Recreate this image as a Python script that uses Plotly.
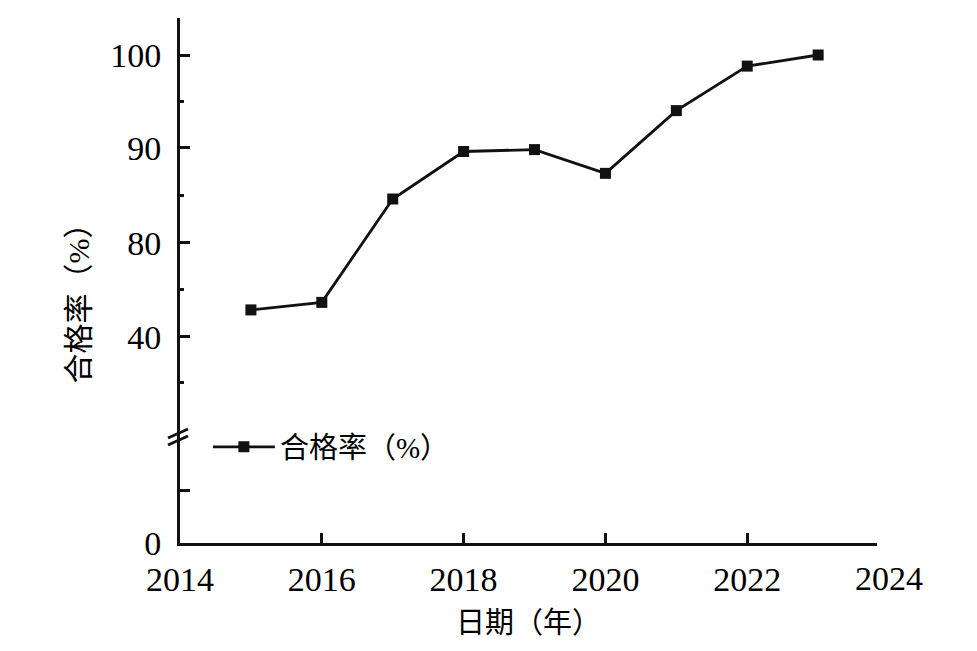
import numpy as np
import plotly.graph_objects as go

# ---- data ----
years = [2015, 2016, 2017, 2018, 2019, 2020, 2021, 2022, 2023]
pass_rate = [51.4, 54.6, 84.6, 89.6, 89.8, 87.3, 94.0, 98.8, 100.0]
series_name = "合格率（%）"
x_title = "日期（年）"
x_tick_labels = ["2014", "2016", "2018", "2020", "2022", "2024"]
y_tick_labels = ["0", "40", "80", "90", "100"]

# ---- broken y scale (value -> layout position) ----
AXIS_VALUES = [0, 40, 80, 90, 100]
AXIS_POS = [0, 206.3, 300.3, 395.3, 488.0]


def to_axis(v):
    return np.interp(v, AXIS_VALUES, AXIS_POS)


FONT = "'Liberation Serif', 'Times New Roman', 'Noto Sans CJK SC', serif"
INK = "#111111"
X_RANGE = [2014, 2023.83]

fig = go.Figure()
fig.add_trace(go.Scatter(
    x=years, y=to_axis(pass_rate), mode="lines+markers", name=series_name,
    line=dict(color=INK, width=2.8),
    marker=dict(symbol="square", size=11, color=INK),
))

ytick_pos = [0, 53] + list(to_axis([40, 80, 90, 100]))
ytick_txt = ["0", ""] + y_tick_labels[1:]

fig.update_layout(
    width=977, height=651,
    margin=dict(l=172, r=108, t=10, b=116),
    paper_bgcolor="white", plot_bgcolor="white",
    font=dict(family=FONT, color="black"),
    showlegend=True,
    legend=dict(x=0.04, y=0.183, xanchor="left", yanchor="middle",
                bgcolor="rgba(0,0,0,0)", font=dict(size=29, family=FONT),
                itemwidth=62),
    xaxis=dict(
        range=X_RANGE, showgrid=False, zeroline=False,
        showline=True, linecolor=INK, linewidth=3,
        tickmode="array", tickvals=[2014, 2016, 2018, 2020, 2022],
        ticktext=x_tick_labels[:-1],
        ticks="inside", ticklen=10, tickwidth=3, tickcolor=INK,
        tickfont=dict(size=34, family=FONT), ticklabelstandoff=4,
    ),
    yaxis=dict(
        range=[0, 525], showgrid=False, zeroline=False,
        showline=True, linecolor=INK, linewidth=3,
        tickmode="array", tickvals=ytick_pos, ticktext=ytick_txt,
        ticks="inside", ticklen=10, tickwidth=3, tickcolor=INK,
        tickfont=dict(size=34, family=FONT), ticklabelstandoff=9,
        minor=dict(tickmode="array", tickvals=[160.3, 253.3, 347.8, 441.7],
                   ticks="inside", ticklen=4, tickwidth=3, tickcolor=INK),
    ),
)

# 2024 label just past the end of the axis (paper coords so it is not hidden)
x2024 = (2024 - X_RANGE[0]) / (X_RANGE[1] - X_RANGE[0])
fig.add_annotation(x=x2024, xref="paper", y=-0.068, yref="paper", text=x_tick_labels[-1],
                   showarrow=False, font=dict(size=34, family=FONT),
                   xanchor="center", yanchor="middle")

# axis titles
fig.add_annotation(x=0.5, xref="paper", y=-0.152, yref="paper", text=x_title,
                   showarrow=False, font=dict(size=29, family=FONT),
                   xanchor="center", yanchor="middle")
fig.add_annotation(x=-0.146, xref="paper", y=0.47, yref="paper", text=series_name,
                   textangle=-90, showarrow=False, font=dict(size=30, family=FONT),
                   xanchor="center", yanchor="middle")

# axis break marks
def px_to_paper(px, py):
    return (px - 180) / 696.7, (543 - py) / 525

for y0, y1 in [(438, 429), (445, 436)]:
    xa, ya = px_to_paper(168, y0)
    xb, yb = px_to_paper(188, y1)
    fig.add_shape(type="line", xref="paper", yref="paper", x0=xa, y0=ya, x1=xb, y1=yb,
                  line=dict(color=INK, width=3))

fig.write_html("out.html")
